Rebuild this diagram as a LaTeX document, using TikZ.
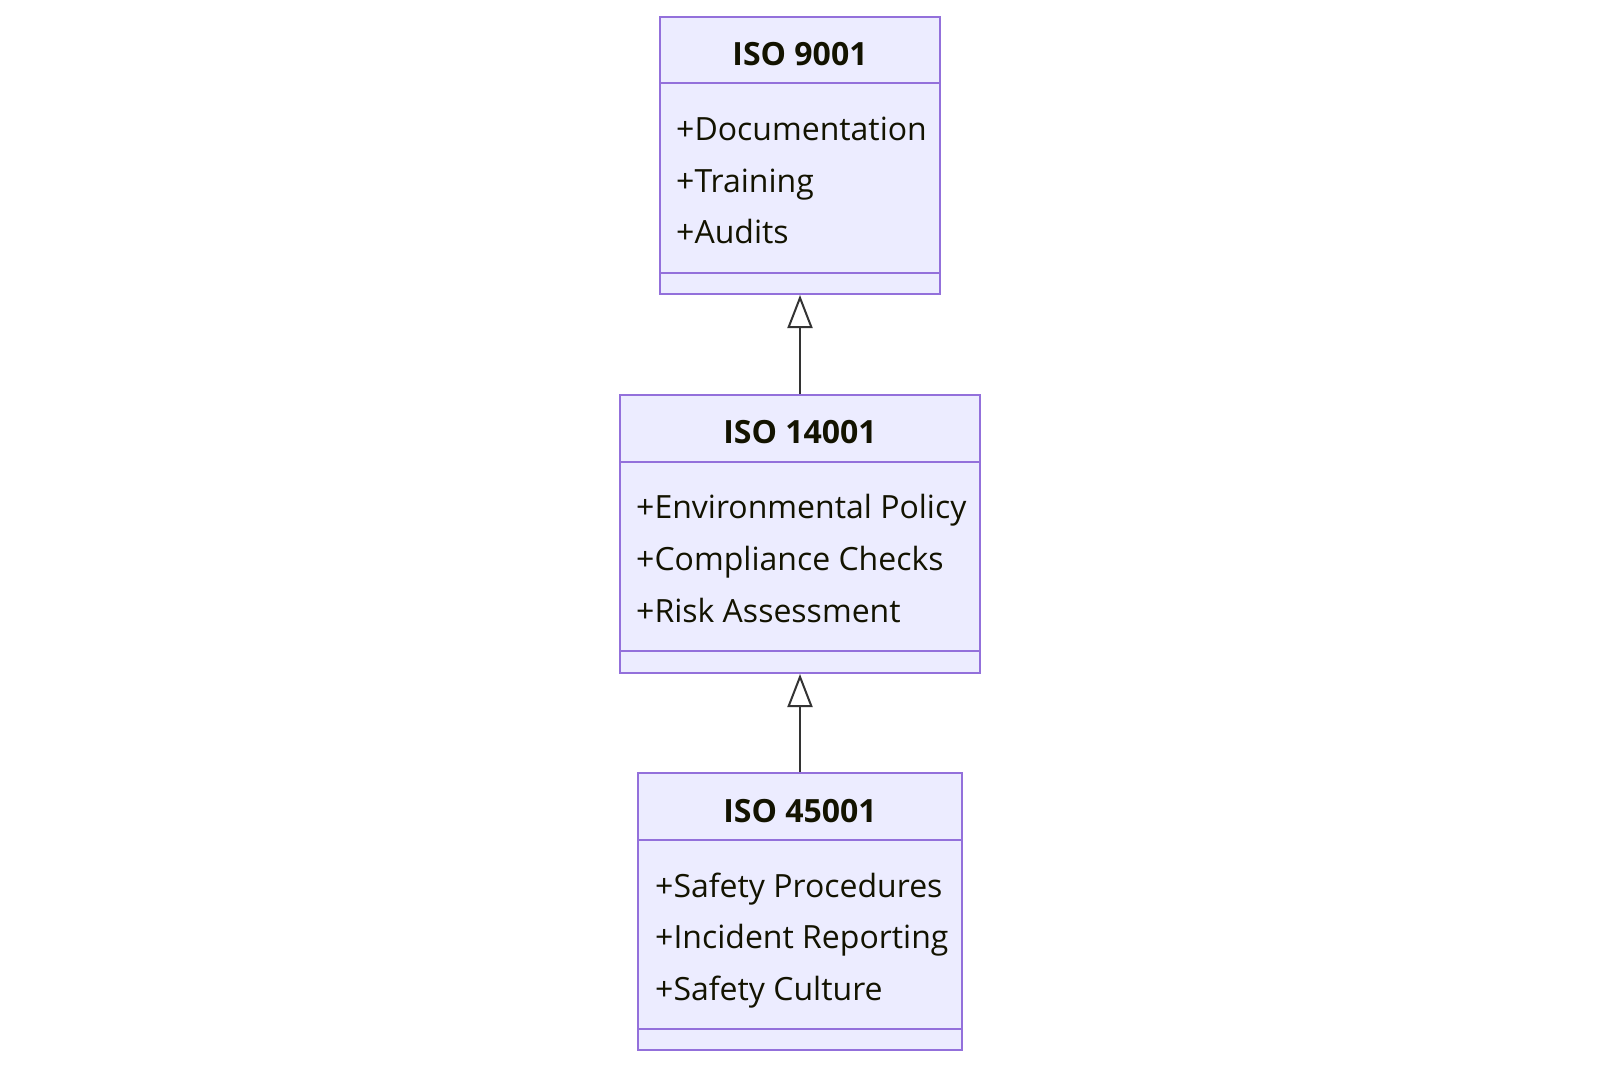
\documentclass[tikz,border=0pt]{standalone}
\usepackage{fontspec}
\setmainfont{Open Sans}
\usetikzlibrary{arrows.meta,calc}
\definecolor{boxfill}{HTML}{ECECFF}
\definecolor{boxline}{HTML}{9370DB}
\definecolor{edge}{HTML}{333333}
\definecolor{txt}{HTML}{131300}
\begin{document}
\begin{tikzpicture}[x=1pt,y=-1pt,
  classbox/.style={draw=boxline,fill=boxfill,line width=2pt,rectangle,inner sep=0pt,minimum height=277pt,anchor=north},
  divider/.style={draw=boxline,line width=2pt},
  title/.style={font=\fontsize{32}{38}\selectfont\bfseries,text=txt,anchor=base,inner sep=0pt},
  member/.style={font=\fontsize{32}{38}\selectfont,text=txt,anchor=base west,inner sep=0pt},
  inherit/.style={draw=edge,line width=2pt,-{Triangle[open,length=33pt,width=25pt,line width=2pt]}}]
\useasboundingbox (0,0) rectangle (1600,1066);
% ISO 9001
\node[classbox,minimum width=280pt] (a) at (800,16) {};
\draw[divider] ($(a.north west)+(0,67)$) -- ($(a.north east)+(0,67)$);
\draw[divider] ($(a.south west)+(0,-22)$) -- ($(a.south east)+(0,-22)$);
\node[title] (at) at (800,65) {ISO 9001};
\node[member] (a1) at (676,140) {+Documentation};
\node[member] (a2) at (676,192) {+Training};
\node[member] (a3) at (676,243) {+Audits};
% ISO 14001
\node[classbox,minimum width=360pt,minimum height=278pt] (b) at (800,394) {};
\draw[divider] ($(b.north west)+(0,68)$) -- ($(b.north east)+(0,68)$);
\draw[divider] ($(b.south west)+(0,-23)$) -- ($(b.south east)+(0,-23)$);
\node[title] (bt) at (800,443) {ISO 14001};
\node[member] (b1) at (636,518) {+Environmental Policy};
\node[member] (b2) at (636,570) {+Compliance Checks};
\node[member] (b3) at (636,622) {+Risk Assessment};
% ISO 45001
\node[classbox,minimum width=324pt] (c) at (800,772) {};
\draw[divider] ($(c.north west)+(0,68)$) -- ($(c.north east)+(0,68)$);
\draw[divider] ($(c.south west)+(0,-22)$) -- ($(c.south east)+(0,-22)$);
\node[title] (ct) at (800,822) {ISO 45001};
\node[member] (c1) at (655,897) {+Safety Procedures};
\node[member] (c2) at (655,948) {+Incident Reporting};
\node[member] (c3) at (655,1000) {+Safety Culture};
% inheritance
\draw[inherit] (b.north) -- (a.south);
\draw[inherit] (c.north) -- (b.south);
\end{tikzpicture}
\end{document}
